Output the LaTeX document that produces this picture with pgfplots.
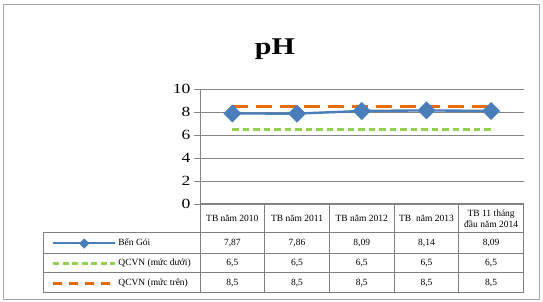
\documentclass[border=0pt]{standalone}
\usepackage{fontspec}
\setmainfont{Liberation Serif}
\newfontfamily\wideserif[FakeStretch=1.25]{Liberation Serif}
\usepackage{pgfplots}
\pgfplotsset{compat=1.18}
\definecolor{cblue}{HTML}{4A7EBB}
\definecolor{cgreen}{HTML}{92D050}
\definecolor{corange}{HTML}{E46C0A}
\definecolor{cgrid}{HTML}{868686}
\definecolor{ctab}{HTML}{7F7F7F}
\definecolor{cframe}{HTML}{A6A6A6}
\begin{document}
\begin{tikzpicture}[x=1pt,y=1pt]
\path[use as bounding box] (0,0) rectangle (543,302);
\draw[cframe, line width=1.2pt] (3.5,2.5) rectangle (539.5,297.5);
\node[font=\wideserif\bfseries\fontsize{24}{26}\selectfont, anchor=base, inner sep=0pt] at (275,247) {pH};
\begin{axis}[
  at={(200pt,98pt)}, anchor=south west, scale only axis,
  width=323.5pt, height=115pt,
  xmin=-0.5, xmax=4.5, ymin=0, ymax=10,
  ytick={0,2,4,6,8,10},
  axis x line=none, axis y line*=left,
  y axis line style={cgrid, line width=0.9pt},
  ymajorgrids, grid style={cgrid, line width=0.9pt},
  tick align=outside, major tick length=6pt,
  y tick style={cgrid, line width=0.9pt},
  yticklabel style={font=\wideserif\fontsize{14}{15}\selectfont},
  /pgf/number format/assume math mode=true,
  clip=false,
  legend cell align=left,
  legend style={at={(axis description cs:-0.4575,-0.5174)}, anchor=west,
    draw=white, fill=white, inner sep=0pt, row sep=11.5pt,
    font=\fontsize{9.5}{10}\selectfont,
    nodes={inner ysep=0pt, inner xsep=2pt, text height=6.5pt, text depth=2pt}},
  legend image code/.code={\draw[mark repeat=2,mark phase=2,#1] plot coordinates {(0pt,0pt) (31pt,0pt) (62pt,0pt)};},
]
\addlegendimage{draw=cblue, fill=cblue, line width=2pt, mark=square*, mark size=2.6pt, mark options={rotate=45, solid, draw=cblue, fill=cblue}}
\addlegendentry{Bến Gói}
\addlegendimage{draw=cgreen, line width=2.2pt, dash pattern=on 6pt off 3.5pt}
\addlegendentry{QCVN (mức dưới)}
\addlegendimage{draw=corange, line width=2.2pt, dash pattern=on 9pt off 7pt}
\addlegendentry{QCVN (mức trên)}
\addplot[forget plot, cblue, line width=2.4pt, mark=square*, mark size=5.2pt, mark options={rotate=45, solid}]
  coordinates {(0,7.87) (1,7.86) (2,8.09) (3,8.14) (4,8.09)};
\addplot[forget plot, cgreen, line width=2.6pt, dash pattern=on 6.5pt off 4pt]
  coordinates {(0,6.5) (1,6.5) (2,6.5) (3,6.5) (4,6.5)};
\addplot[forget plot, corange, line width=2.6pt, dash pattern=on 16pt off 8pt]
  coordinates {(0,8.5) (1,8.5) (2,8.5) (3,8.5) (4,8.5)};
\end{axis}
% data table grid
\begin{scope}[ctab, line width=1pt]
\draw (200,98) -- (523.5,98);
\foreach \yy in {69,48,29,9} \draw (43,\yy) -- (523.5,\yy);
\draw (43,69) -- (43,9);
\foreach \xx in {200,264.7,329.4,394.1,458.8,523.5} \draw (\xx,98) -- (\xx,9);
\end{scope}
\begin{scope}[every node/.style={font=\fontsize{9.5}{11}\selectfont, inner sep=0pt, align=center}]
\node at (232.35,83.6) {TB năm 2010};
\node at (297.05,83.6) {TB năm 2011};
\node at (361.75,83.6) {TB năm 2012};
\node at (426.45,83.6) {TB\ \ năm 2013};
\node at (491.15,83.6) {TB 11 tháng\\đầu năm 2014};
\node at (232.35,58.5) {7,87};
\node at (297.05,58.5) {7,86};
\node at (361.75,58.5) {8,09};
\node at (426.45,58.5) {8,14};
\node at (491.15,58.5) {8,09};
\node at (232.35,38.5) {6,5};
\node at (297.05,38.5) {6,5};
\node at (361.75,38.5) {6,5};
\node at (426.45,38.5) {6,5};
\node at (491.15,38.5) {6,5};
\node at (232.35,19) {8,5};
\node at (297.05,19) {8,5};
\node at (361.75,19) {8,5};
\node at (426.45,19) {8,5};
\node at (491.15,19) {8,5};
\end{scope}
\end{tikzpicture}
\end{document}
